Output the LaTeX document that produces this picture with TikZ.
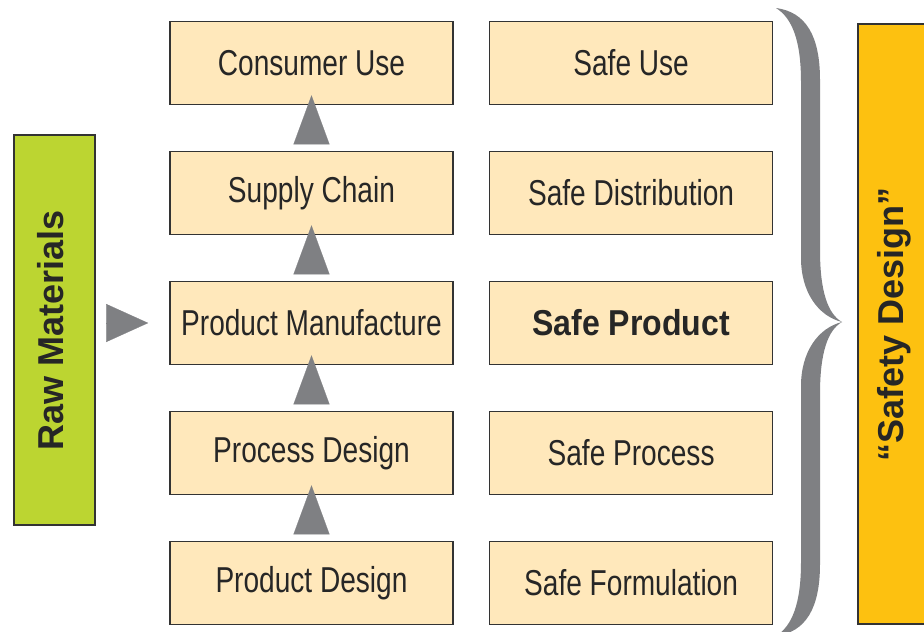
\documentclass[tikz,border=0pt]{standalone}
\usepackage{fontspec}
\usetikzlibrary{positioning}
\usetikzlibrary{arrows.meta}
\newfontfamily\boxfont[FakeStretch=0.78]{Liberation Sans}
\newfontfamily\safefont[FakeStretch=0.89]{Liberation Sans}
\newfontfamily\sidefont{Liberation Sans}
\definecolor{boxfill}{HTML}{FFE8BB}
\definecolor{boxline}{HTML}{333333}
\definecolor{rawgreen}{HTML}{BCD531}
\definecolor{safeorange}{HTML}{FDC110}
\definecolor{flowgray}{HTML}{7F8083}
\tikzstyle{stage} = [rectangle, draw=boxline, line width=1.6pt, fill=boxfill, minimum width=283pt, minimum height=83pt, inner sep=0pt, text=black!85, font=\boxfont\fontsize{36}{40}\selectfont]
\tikzstyle{side} = [rectangle, draw=boxline, line width=1.6pt, inner sep=0pt, rotate=90, text=black!85, font=\sidefont\bfseries\fontsize{36}{40}\selectfont]
\tikzstyle{flow} = [flowgray, line width=0.2pt, -{Triangle[length=49pt,width=36pt]}]
\newcommand{\gap}{35pt}

\begin{document}
\begin{tikzpicture}[x=1pt,y=-1pt]
  \useasboundingbox (0,0) rectangle (924,632);

  % Chain of stages
  \node [stage] (consumerUse) at (311.5,63) {Consumer Use};
  \node [stage] (supplyChain) at (311.5,193) {Supply Chain};
  \node [stage] (productManufacture) at (311.5,323) {Product Manufacture};
  \node [stage] (processDesign) at (311.5,453) {Process Design};
  \node [stage] (productDesign) at (311.5,583) {Product Design};

  % Safe counterparts
  \node [stage, right=\gap of consumerUse] (safeUse) {Safe Use};
  \node [stage, right=\gap of supplyChain] (safeDistribution) {Safe Distribution};
  \node [stage, right=\gap of productManufacture, font=\safefont\bfseries\fontsize{36}{40}\selectfont] (safeProduct) {Safe Product};
  \node [stage, right=\gap of processDesign] (safeProcess) {Safe Process};
  \node [stage, right=\gap of productDesign] (safeFormulation) {Safe Formulation};

  % Raw materials
  \node [side, fill=rawgreen, minimum width=390pt, minimum height=81pt, text depth=9pt] (rawMaterials) at (54.5,330) {Raw Materials};

  % Safety design
  \node [side, fill=safeorange, minimum width=600pt, minimum height=72pt] (safetyDesign) at (894,324) {“Safety Design”};

  % Upward flow
  \draw [flow] ([yshift=8pt]supplyChain.north) -- ([yshift=10pt]consumerUse.south);
  \draw [flow] ([yshift=8pt]productManufacture.north) -- ([yshift=10pt]supplyChain.south);
  \draw [flow] ([yshift=8pt]processDesign.north) -- ([yshift=10pt]productManufacture.south);
  \draw [flow] ([yshift=8pt]productDesign.north) -- ([yshift=10pt]processDesign.south);

  % Input
  \coordinate (input) at ([xshift=12pt]rawMaterials.south |- productManufacture.west);
  \draw [flow, -{Triangle[length=42pt,width=38pt]}] (input) -- ([xshift=-21pt]productManufacture.west);

  % Brace
  \fill [flowgray] (776,8) .. controls (806,12) and (820,36) .. (820,80) -- (820,250) .. controls (820,292) and (828,314) .. (842,322)
    .. controls (818,316) and (801,292) .. (801,258) -- (801,82) .. controls (801,40) and (792,18) .. (776,8) -- cycle;
  \fill [flowgray] (776,636) .. controls (806,632) and (820,608) .. (820,564) -- (820,394) .. controls (820,352) and (828,330) .. (842,322)
    .. controls (818,328) and (801,352) .. (801,386) -- (801,562) .. controls (801,604) and (792,626) .. (776,636) -- cycle;

\end{tikzpicture}
\end{document}
